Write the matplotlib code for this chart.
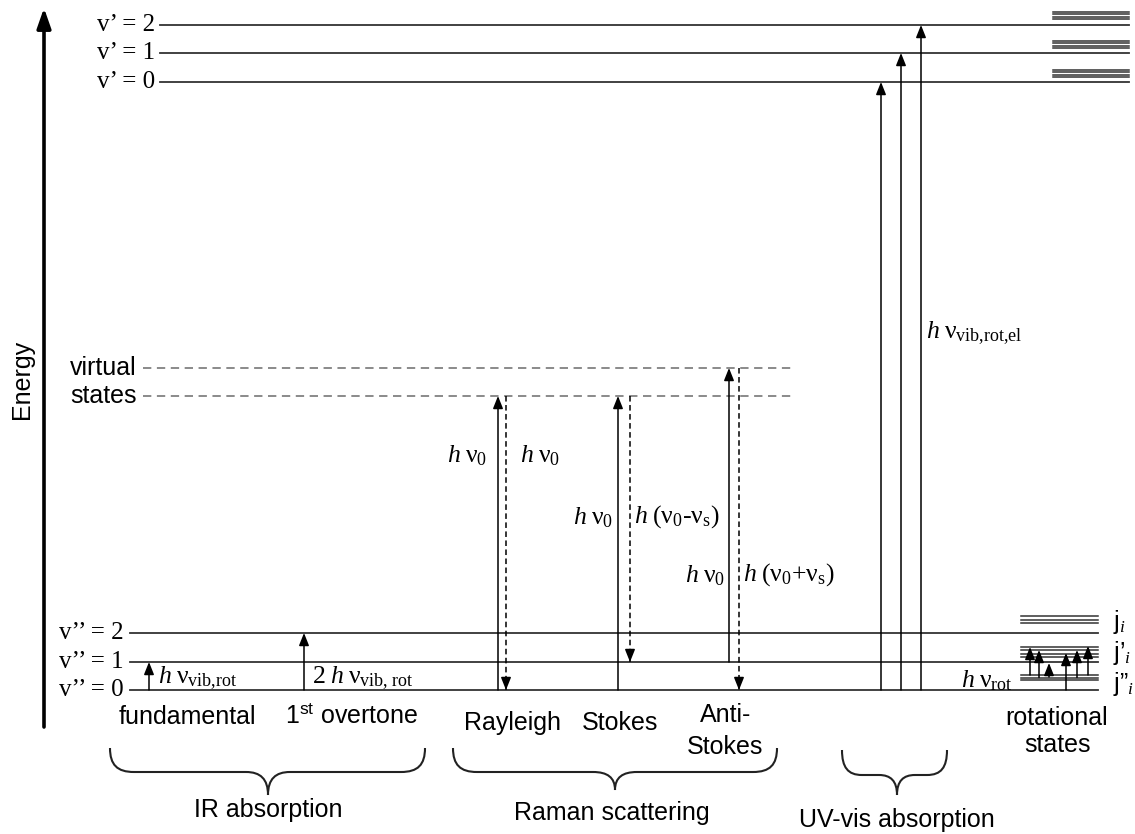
import numpy as np
import matplotlib.pyplot as plt
from matplotlib.path import Path
from matplotlib.patches import PathPatch

plt.rcParams['mathtext.fontset'] = 'custom'
plt.rcParams['mathtext.rm'] = 'Liberation Serif'
plt.rcParams['mathtext.it'] = 'Liberation Serif:italic'
plt.rcParams['mathtext.sf'] = 'Liberation Sans'
plt.rcParams['lines.scale_dashes'] = False

SERIF = 'Liberation Serif'
SANS = 'Liberation Sans'

# energy levels (diagram units, 0 = bottom of the picture)
v_low = [144, 172, 201]          # v'' = 0, 1, 2
v_up = [752, 781, 809]           # v' = 0, 1, 2
virt = [438, 466]                # virtual states
low_labels = ['v\u2019\u2019 = 0', 'v\u2019\u2019 = 1', 'v\u2019\u2019 = 2']
up_labels = ['v\u2019 = 0', 'v\u2019 = 1', 'v\u2019 = 2']
virt_labels = ['states', 'virtual']

# fine structure
sub_up = [[757, 759.5, 762, 764.5],
          [786, 788.5, 791, 793.5],
          [815, 817.5, 820, 822.5]]
rot_j = [211, 214.5, 218]        # j_i
rot_j1 = [177, 180, 184, 187]    # j'_i
rot_j0 = [154, 156.5, 159]       # j''_i

# rotational transitions (from, to)
rot_from = [159, 156.5, 157, 144, 156.5, 159]
rot_to = [187, 184, 171, 181, 184, 188]
rot_x = [1030, 1039, 1049, 1066, 1077, 1088]

fig = plt.figure(figsize=(11.35, 8.34), dpi=100)
ax = fig.add_axes([0, 0, 1, 1])
ax.set_xlim(0, 1135)
ax.set_ylim(0, 834)
ax.axis('off')

HEAD = '-|>,head_length=0.75,head_width=0.3'


def arrow(x, e0, e1, dashed=False):
    if dashed:
        ax.plot([x, x], [e0, e1], color='k', lw=1.1, dashes=(4, 2.5))
        d = np.sign(e1 - e0)
        ax.annotate('', xy=(x, e1), xytext=(x, e1 - d * 6),
                    arrowprops=dict(arrowstyle=HEAD, mutation_scale=10, lw=1.1,
                                    color='k', shrinkA=0, shrinkB=0))
    else:
        ax.annotate('', xy=(x, e1), xytext=(x, e0),
                    arrowprops=dict(arrowstyle=HEAD, mutation_scale=10, lw=1.1,
                                    color='k', shrinkA=0, shrinkB=0))


def brace(x0, x1, xc, top, mid, tip, r=24, rc=22):
    verts = [(x0, top),
             (x0, mid + 0.3 * (top - mid)), (x0 + 0.3 * r, mid), (x0 + r, mid),
             (xc - rc, mid),
             (xc - 0.35 * rc, mid), (xc, mid - 0.3 * (mid - tip)), (xc, tip),
             (xc, mid - 0.3 * (mid - tip)), (xc + 0.35 * rc, mid), (xc + rc, mid),
             (x1 - r, mid),
             (x1 - 0.3 * r, mid), (x1, mid + 0.3 * (top - mid)), (x1, top)]
    codes = [Path.MOVETO] + [Path.CURVE4] * 3 + [Path.LINETO] + [Path.CURVE4] * 6 \
        + [Path.LINETO] + [Path.CURVE4] * 3
    ax.add_patch(PathPatch(Path(verts, codes), fill=False, lw=1.5, edgecolor='#222222'))


# energy axis
ax.annotate('', xy=(44, 826), xytext=(44, 107),
            arrowprops=dict(arrowstyle='-|>,head_length=1.2,head_width=0.42',
                            mutation_scale=10, lw=2.6, color='k', shrinkA=0, shrinkB=0))
ax.text(22, 455, 'Energy', rotation=90, ha='center', va='center', family=SANS, fontsize=18)

# electronic ground state levels
for e, lab in zip(v_low, low_labels):
    ax.plot([130, 1098], [e, e], color='#333333', lw=1.3)
    ax.text(124, e, lab, ha='right', va='center', family=SERIF, fontsize=18)
# excited state levels
for e, lab, subs in zip(v_up, up_labels, sub_up):
    ax.plot([160, 1129], [e, e], color='#333333', lw=1.3)
    ax.text(155, e, lab, ha='right', va='center', family=SERIF, fontsize=18)
    for s in subs:
        ax.plot([1053, 1129], [s, s], color='#333333', lw=1.1)
# virtual states
for e, lab in zip(virt, virt_labels):
    ax.plot([143, 795], [e, e], color='#777777', lw=1.2, dashes=(6, 4))
    ax.text(137, e, lab, ha='right', va='center', family=SANS, fontsize=18)
# rotational sub-levels
for s in rot_j + rot_j1 + rot_j0:
    ax.plot([1021, 1098], [s, s], color='#333333', lw=1.1)

FS = 18.5

# IR absorption
arrow(149, v_low[0], v_low[1])
arrow(304, v_low[0], v_low[2])
ax.text(158, 156, r'$\mathit{h}\;\mathrm{\nu}_{\text{vib,rot}}$', ha='left', va='center',
        fontsize=FS)
ax.text(312, 156, r'$\mathrm{2}\;\mathit{h}\;\mathrm{\nu}_{\text{vib, rot}}$', ha='left',
        va='center', fontsize=FS)

# Raman scattering
arrow(498, v_low[0], virt[0])
arrow(506, virt[0], v_low[0], dashed=True)
arrow(618, v_low[0], virt[0])
arrow(630, virt[0], v_low[1], dashed=True)
arrow(729, v_low[1], virt[1])
arrow(739, virt[1], v_low[0], dashed=True)
hv0 = r'$\mathit{h}\;\mathrm{\nu}_0$'
ax.text(487, 379, hv0, ha='right', va='center', fontsize=FS)
ax.text(520, 379, hv0, ha='left', va='center', fontsize=FS)
ax.text(613, 317, hv0, ha='right', va='center', fontsize=FS)
ax.text(634, 317, r'$\mathit{h}\;(\mathrm{\nu}_0\text{-}\mathrm{\nu}_{\mathrm{s}})$',
        ha='left', va='center', fontsize=FS)
ax.text(725, 259, hv0, ha='right', va='center', fontsize=FS)
ax.text(743, 259, r'$\mathit{h}\;(\mathrm{\nu}_0\text{+}\mathrm{\nu}_{\mathrm{s}})$',
        ha='left', va='center', fontsize=FS)

# UV-vis absorption
for x, e in zip([881, 901, 921], v_up):
    arrow(x, v_low[0], e)
ax.text(926, 501, r'$\mathit{h}\;\mathrm{\nu}_{\text{vib,rot,el}}$', ha='left',
        va='center', fontsize=FS)

# rotational transitions
for x, e0, e1 in zip(rot_x, rot_from, rot_to):
    arrow(x, e0, e1)
ax.text(1013, 154, r'$\mathit{h}\;\mathrm{\nu}_{\text{rot}}$', ha='right', va='center',
        fontsize=FS)
ax.text(1113, 212, '$\\mathsf{j}_{\\mathit{i}}$', ha='left', va='center', fontsize=18)
ax.text(1113, 181, '$\\mathsf{j\u2019}_{\\mathit{i}}$', ha='left', va='center', fontsize=18)
ax.text(1113, 150, '$\\mathsf{j\u201d}_{\\mathit{i}}$', ha='left', va='center', fontsize=18)

# transition names
ax.text(187, 117, 'fundamental', ha='center', va='center', family=SANS, fontsize=18)
ax.text(352, 117, r'1$^{\mathsf{st}}$ overtone', ha='center', va='center', family=SANS,
        fontsize=18)
ax.text(513, 111, 'Rayleigh', ha='center', va='center', family=SANS, fontsize=18)
ax.text(620, 111, 'Stokes', ha='center', va='center', family=SANS, fontsize=18)
ax.text(726, 119, 'Anti-', ha='center', va='center', family=SANS, fontsize=18)
ax.text(725, 87, 'Stokes', ha='center', va='center', family=SANS, fontsize=18)
ax.text(1057, 116, 'rotational', ha='center', va='center', family=SANS, fontsize=18)
ax.text(1058, 89, 'states', ha='center', va='center', family=SANS, fontsize=18)

# group braces
brace(110, 425, 268, 86, 62, 39)
brace(453, 777, 615, 86, 62, 44)
brace(842, 947, 897, 84, 59, 39, r=20, rc=18)
ax.text(268, 24, 'IR absorption', ha='center', va='center', family=SANS, fontsize=18)
ax.text(612, 21, 'Raman scattering', ha='center', va='center', family=SANS, fontsize=18)
ax.text(897, 14, 'UV-vis absorption', ha='center', va='center', family=SANS, fontsize=18)

fig.savefig('out.png', dpi=100)
